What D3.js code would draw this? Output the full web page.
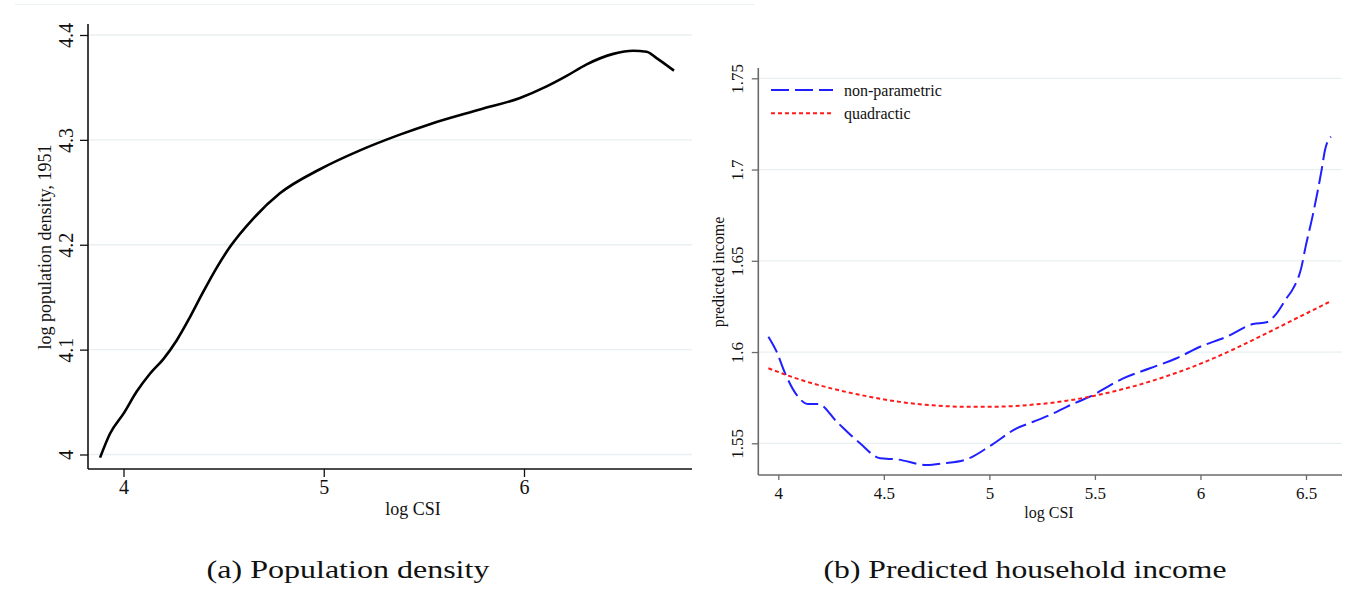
<!DOCTYPE html>
<html>
<head>
<meta charset="utf-8">
<script src="https://cdn.jsdelivr.net/npm/d3@7"></script>
<style>
  body { margin: 0; background: #fff; }
  svg { display: block; }
  text { font-family: serif; fill: #111; }
</style>
</head>
<body>
<div id="chart"></div>
<script>
// panel (a): log population density, 1951 vs log CSI
var densX = [3.883, 3.933, 4.0, 4.066, 4.132, 4.199, 4.266, 4.332, 4.398, 4.465, 4.532, 4.648, 4.781,
             4.981, 5.181, 5.380, 5.530, 5.780, 5.980, 6.113, 6.213, 6.313, 6.446, 6.545, 6.612, 6.662, 6.749];
var densY = [3.997, 4.020, 4.039, 4.060, 4.077, 4.091, 4.109, 4.131, 4.155, 4.178, 4.198, 4.225, 4.249,
             4.272, 4.290, 4.305, 4.315, 4.329, 4.340, 4.351, 4.361, 4.372, 4.382, 4.385, 4.384, 4.378, 4.366];
var densXTicks = [4, 5, 6];
var densYTicks = [4, 4.1, 4.2, 4.3, 4.4];

// panel (b): predicted income vs log CSI
var npX = [3.953, 3.992, 4.032, 4.087, 4.142, 4.190, 4.277, 4.387, 4.482, 4.561, 4.703, 4.782, 4.892,
           5.003, 5.129, 5.208, 5.287, 5.366, 5.492, 5.634, 5.761, 5.887, 5.998, 6.124, 6.250, 6.313,
           6.361, 6.408, 6.440, 6.479, 6.495, 6.534, 6.574, 6.590, 6.618];
var npY = [1.6084, 1.6002, 1.5884, 1.5765, 1.5715, 1.5715, 1.5618, 1.5500, 1.5418, 1.5412, 1.5381, 1.5390, 1.5412,
           1.5485, 1.5582, 1.5618, 1.5655, 1.5700, 1.5765, 1.5856, 1.5911, 1.5966, 1.6029, 1.6084, 1.6154, 1.6163,
           1.6212, 1.6295, 1.6350, 1.6468, 1.6560, 1.6760, 1.6998, 1.7107, 1.7180];
var quadX = [3.953, 4.103, 4.261, 4.419, 4.576, 4.734, 4.892, 5.050, 5.208, 5.366, 5.524, 5.682, 5.840,
             5.998, 6.155, 6.313, 6.471, 6.613];
var quadY = [1.5911, 1.5849, 1.5798, 1.5758, 1.5727, 1.5708, 1.5700, 1.5701, 1.5712, 1.5733, 1.5767, 1.5812, 1.5868,
             1.5935, 1.6014, 1.6103, 1.6194, 1.6276];
var incXTicks = [4, 4.5, 5, 5.5, 6, 6.5];
var incYTicks = [1.55, 1.6, 1.65, 1.7, 1.75];
var seriesNames = ["non-parametric", "quadractic"];
var captions = ["(a) Population density", "(b) Predicted household income"];

var svg = d3.select('#chart').append('svg')
    .attr('width', 1348)
    .attr('height', 592);

var gridColor = '#e8f0f1';

// thin rule at the very top
svg.append('line')
    .attr('x1', 15).attr('x2', 755).attr('y1', 4.5).attr('y2', 4.5)
    .attr('stroke', '#edf3f4').attr('stroke-width', 1.2);

function zip(xs, ys) {
    return xs.map(function(x, i) { return [x, ys[i]]; });
}

function drawPanel(opt) {
    var g = svg.append('g');
    var x = d3.scaleLinear().domain(opt.xDomain).range(opt.xRange);
    var y = d3.scaleLinear().domain(opt.yDomain).range(opt.yRange);

    // gridlines
    g.selectAll('line.grid').data(opt.yTicks).enter().append('line')
        .attr('class', 'grid')
        .attr('x1', opt.left).attr('x2', opt.right)
        .attr('y1', function(d) { return y(d); })
        .attr('y2', function(d) { return y(d); })
        .attr('stroke', gridColor).attr('stroke-width', 1.3);

    // y axis
    var ya = g.append('g')
        .attr('transform', 'translate(' + opt.left + ',0)')
        .call(d3.axisLeft(y).tickValues(opt.yTicks).tickSize(opt.yTick).tickSizeOuter(0)
              .tickFormat(function(d) { return String(+d.toFixed(2)); }));
    ya.attr('font-family', 'serif');
    ya.select('.domain').remove();
    ya.selectAll('line').attr('stroke', opt.axisColor).attr('stroke-width', 1.3);
    ya.selectAll('text')
        .attr('transform', 'rotate(-90)')
        .attr('x', 0).attr('y', -opt.yLabelOff).attr('dy', '0.33em')
        .attr('text-anchor', 'middle')
        .style('font-family', 'serif')
        .style('font-size', opt.tickFont + 'px')
        .attr('fill', '#111');
    g.append('line')
        .attr('x1', opt.left).attr('x2', opt.left)
        .attr('y1', opt.top).attr('y2', opt.bottom)
        .attr('stroke', opt.axisColor).attr('stroke-width', 1.6);

    // x axis
    var xa = g.append('g')
        .attr('transform', 'translate(0,' + opt.bottom + ')')
        .call(d3.axisBottom(x).tickValues(opt.xTicks).tickSize(opt.xTick).tickSizeOuter(0)
              .tickFormat(function(d) { return String(d); }));
    xa.attr('font-family', 'serif');
    xa.select('.domain').remove();
    xa.selectAll('line').attr('stroke', opt.axisColor).attr('stroke-width', 1.3);
    xa.selectAll('text')
        .attr('y', opt.xLabelOff).attr('dy', '0.35em')
        .style('font-family', 'serif')
        .style('font-size', opt.tickFont + 'px')
        .attr('fill', '#111');
    g.append('line')
        .attr('x1', opt.left).attr('x2', opt.right)
        .attr('y1', opt.bottom).attr('y2', opt.bottom)
        .attr('stroke', opt.axisColor).attr('stroke-width', 1.6);

    // axis titles
    g.append('text')
        .attr('x', opt.xTitle[0]).attr('y', opt.xTitle[1]).attr('dy', '0.35em')
        .attr('text-anchor', 'middle')
        .style('font-size', opt.titleFont + 'px')
        .text('log CSI');
    g.append('text')
        .attr('transform', 'translate(' + opt.yTitle[0] + ',' + opt.yTitle[1] + ') rotate(-90)')
        .attr('dy', '0.35em')
        .attr('text-anchor', 'middle')
        .style('font-size', opt.titleFont + 'px')
        .text(opt.yLabel);

    var line = d3.line()
        .x(function(d) { return x(d[0]); })
        .y(function(d) { return y(d[1]); })
        .curve(d3.curveMonotoneX);

    opt.series.forEach(function(s) {
        g.append('path')
            .datum(s.data)
            .attr('d', line)
            .attr('fill', 'none')
            .attr('stroke', s.color)
            .attr('stroke-width', s.width)
            .attr('stroke-dasharray', s.dash || null)
            .attr('stroke-linejoin', 'round');
    });
    return { x: x, y: y };
}

drawPanel({
    xDomain: [4, 6], xRange: [123.5, 524],
    yDomain: [4, 4.4], yRange: [454.5, 35],
    left: 88, right: 692, top: 24, bottom: 469,
    xTicks: densXTicks, yTicks: densYTicks,
    xTick: 8, yTick: 8, xLabelOff: 18, yLabelOff: 22,
    tickFont: 20, titleFont: 18,
    axisColor: '#111',
    xTitle: [413, 509], yTitle: [45, 247],
    yLabel: 'log population density, 1951',
    series: [{ data: zip(densX, densY), color: '#000', width: 2.6 }]
});

var blue = '#1f1fff', red = '#ff1a1a';
var incSeries = [
    { data: zip(npX, npY), color: blue, width: 2, dash: '18,6' },
    { data: zip(quadX, quadY), color: red, width: 2, dash: '4,3' }
];
drawPanel({
    xDomain: [4, 6.5], xRange: [778.3, 1306],
    yDomain: [1.55, 1.75], yRange: [443.3, 78.3],
    left: 758.3, right: 1342, top: 68, bottom: 475,
    xTicks: incXTicks, yTicks: incYTicks,
    xTick: 5, yTick: 6.5, xLabelOff: 18, yLabelOff: 21,
    tickFont: 17, titleFont: 16,
    axisColor: '#6b6b6b',
    xTitle: [1049, 512], yTitle: [718, 272],
    yLabel: 'predicted income',
    series: incSeries
});

// legend
var legend = svg.selectAll('g.legendItem').data(seriesNames).enter().append('g')
    .attr('class', 'legendItem')
    .attr('transform', function(d, i) { return 'translate(771,' + (90 + 23.3 * i) + ')'; });
legend.append('line')
    .attr('x1', 0).attr('x2', 62).attr('y1', 0).attr('y2', 0)
    .attr('stroke', function(d, i) { return incSeries[i].color; })
    .attr('stroke-width', 2)
    .attr('stroke-dasharray', function(d, i) { return incSeries[i].dash; });
legend.append('text')
    .attr('x', 73).attr('y', 0).attr('dy', '0.35em')
    .style('font-size', '16px')
    .text(function(d) { return d; });

// captions: wide LaTeX-like face, so stretch a serif horizontally to the measured width
var capX = [348, 1025], capW = [283, 403];
svg.selectAll('text.caption').data(captions).enter().append('text')
    .attr('class', 'caption')
    .attr('text-anchor', 'middle')
    .style('font-size', '26px')
    .text(function(d) { return d; })
    .each(function(d, i) {
        var sx = capW[i] / this.getComputedTextLength();
        d3.select(this).attr('transform', 'translate(' + capX[i] + ',578) scale(' + sx + ',1)');
    });
</script>
</body>
</html>
